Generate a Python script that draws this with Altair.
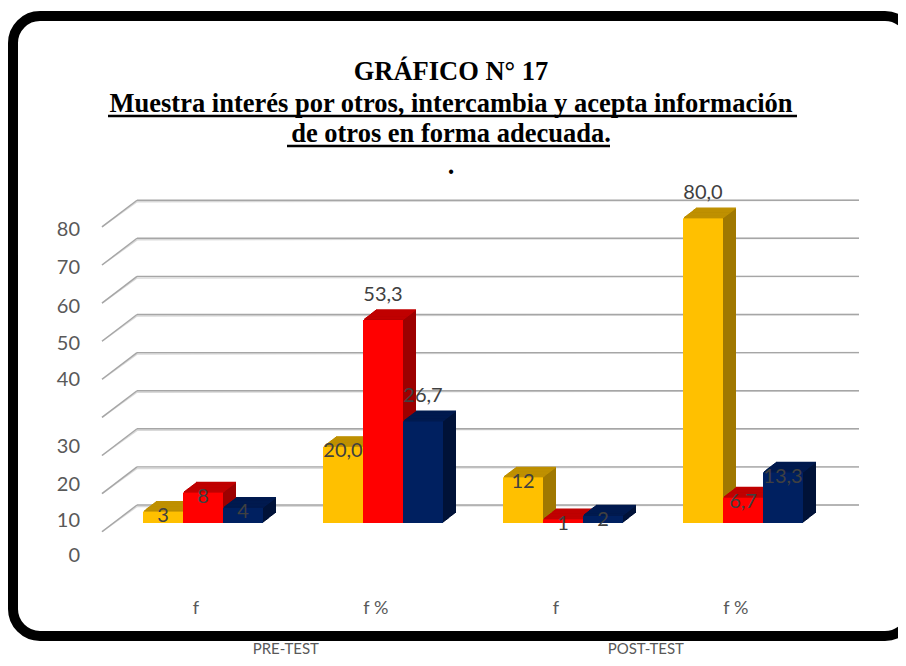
import altair as alt
import pandas as pd

# ---------------- data ----------------
CATEGORIES = ["f", "f %", "f", "f %"]
GROUPS = ["PRE-TEST", "POST-TEST"]
YELLOW = [3, 20.0, 12, 80.0]
RED = [8, 53.3, 1, 6.7]
NAVY = [4, 26.7, 2, 13.3]
GRID_VALUES = [0, 10, 20, 30, 40, 50, 60, 70, 80]
Y_TICK_LABELS = ["0", "10", "20", "30", "40", "50", "60", "70", "80"]

TITLE = "GRÁFICO N° 17"
SUBTITLE_1 = "Muestra interés por otros, intercambia y acepta información"
SUBTITLE_2 = "de otros en forma adecuada."

# ---------------- styling / layout ----------------
FRONT = ["#FFC000", "#FF0000", "#002060"]
TOP = ["#BF9000", "#C00000", "#001A4F"]
SIDE = ["#A07800", "#9C0000", "#001238"]

W_PX, H_PX = 890, 650
CAT_PX = 180.0          # px per category unit
VAL_PX = 3.81           # px per value unit
X0_PX = 195.0           # px of category 0 centre
Y0_PX = 515.0           # px of value 0 (front base)
X_DOMAIN = [-X0_PX / CAT_PX, (W_PX - X0_PX) / CAT_PX]
Y_DOMAIN = [(Y0_PX - H_PX) / VAL_PX, Y0_PX / VAL_PX]

BAR_W = 40 / CAT_PX
DEPTH_X, DEPTH_Y = 13.0, 10.0     # px of the 3D depth
STEPS = 13
WALL = 18 / VAL_PX
GRID_X0 = -66 / CAT_PX
GRID_X1 = 656 / CAT_PX
DIAG_DX = 35 / CAT_PX
DIAG_DY = 26.7 / VAL_PX
# label positions of the (irregular) value axis, in value units
Y_TICK_POS = [-8.66, 0.52, 9.97, 19.95, 37.53, 46.98, 56.69, 66.93, 76.90]
Y_TICK_X = -123 / CAT_PX

xs = alt.Scale(domain=X_DOMAIN, nice=False, zero=False)
ys = alt.Scale(domain=Y_DOMAIN, nice=False, zero=False)

# ---------------- derived tables ----------------
bars, labels = [], []
for i, cat in enumerate(CATEGORIES):
    for j, vals in enumerate([YELLOW, RED, NAVY]):
        v = vals[i]
        x0 = i + (j - 1.5) * BAR_W
        x1 = x0 + BAR_W
        bars.append(dict(x=x0, x2=x1, y=0, y2=v, front=FRONT[j], top=TOP[j], side=SIDE[j]))
        txt = f"{v:.1f}".replace(".", ",") if "%" in cat else str(int(v))
        labels.append(dict(x=(x0 + x1) / 2, y=(v + 6.6) if v > 25 else (v - 1.2), t=txt))

bar_df = pd.DataFrame(bars)
lab_df = pd.DataFrame(labels)

grid_df = pd.DataFrame({"v": GRID_VALUES})
grid_df["y"] = grid_df["v"] + WALL
grid_df["yd"] = grid_df["y"] - DIAG_DY
grid_df["x0"] = GRID_X0
grid_df["x1"] = GRID_X1
grid_df["xd"] = GRID_X0 - DIAG_DX

ytick_df = pd.DataFrame({"t": Y_TICK_LABELS, "y": Y_TICK_POS, "x": Y_TICK_X})
cat_df = pd.DataFrame({"t": CATEGORIES, "x": [i - 0.04 for i in range(len(CATEGORIES))]})
grp_df = pd.DataFrame({"t": GROUPS, "x": [0.5 - 0.04, 2.5 - 0.04]})
one = pd.DataFrame({"k": [0]})

# ---------------- layers ----------------
def grid_layer(color, width, yoff):
    h = alt.Chart(grid_df).mark_rule(color=color, strokeWidth=width, yOffset=yoff).encode(
        x=alt.X("x0:Q", scale=xs, axis=None), x2="x1:Q",
        y=alt.Y("y:Q", scale=ys, axis=None), y2="y:Q")
    d = alt.Chart(grid_df).mark_rule(color=color, strokeWidth=width, yOffset=yoff).encode(
        x=alt.X("x0:Q", scale=xs, axis=None), x2="xd:Q",
        y=alt.Y("y:Q", scale=ys, axis=None), y2="yd:Q")
    return h + d

grid = grid_layer("#D9D9D9", 1.5, 1.5) + grid_layer("#A6A6A6", 1.4, 0)

base = alt.Chart(bar_df)
depth_layers = []
for s in range(STEPS, 0, -1):
    ox = DEPTH_X * s / STEPS
    oy = -DEPTH_Y * s / STEPS
    depth_layers.append(
        base.mark_rect(xOffset=ox, yOffset=oy, x2Offset=ox, y2Offset=oy).encode(
            x=alt.X("x:Q", scale=xs, axis=None), x2="x2:Q",
            y=alt.Y("y:Q", scale=ys, axis=None), y2="y2:Q",
            color=alt.Color("side:N", scale=None)))
    depth_layers.append(
        base.mark_rule(strokeWidth=1.3, xOffset=ox, yOffset=oy, x2Offset=ox, y2Offset=oy).encode(
            x=alt.X("x:Q", scale=xs, axis=None), x2="x2:Q",
            y=alt.Y("y2:Q", scale=ys, axis=None), y2="y2:Q",
            color=alt.Color("top:N", scale=None)))

fronts = base.mark_rect().encode(
    x=alt.X("x:Q", scale=xs, axis=None), x2="x2:Q",
    y=alt.Y("y:Q", scale=ys, axis=None), y2="y2:Q",
    color=alt.Color("front:N", scale=None))

value_labels = alt.Chart(lab_df).mark_text(
    font="Lato", fontSize=20, color="#404040", align="center", baseline="middle").encode(
    x=alt.X("x:Q", scale=xs, axis=None),
    y=alt.Y("y:Q", scale=ys, axis=None),
    text="t:N")

ytick_labels = alt.Chart(ytick_df).mark_text(
    font="Lato", fontSize=20, color="#595959", align="right", baseline="middle").encode(
    x=alt.X("x:Q", scale=xs, axis=None),
    y=alt.Y("y:Q", scale=ys, axis=None),
    text="t:N")

cat_labels = alt.Chart(cat_df).mark_text(
    font="Lato", fontSize=18, color="#595959", align="center", baseline="middle").encode(
    x=alt.X("x:Q", scale=xs, axis=None), y=alt.value(601), text="t:N")

grp_labels = alt.Chart(grp_df).mark_text(
    font="Lato", fontSize=15, color="#595959", align="center", baseline="alphabetic").encode(
    x=alt.X("x:Q", scale=xs, axis=None), y=alt.value(646), text="t:N")

def title_text(t, y):
    return alt.Chart(one).mark_text(
        font="Liberation Serif", fontSize=26.5, fontWeight="bold", color="black",
        align="center", baseline="alphabetic").encode(
        x=alt.value(443), y=alt.value(y), text=alt.value(t))

titles = (title_text(TITLE, 72) + title_text(SUBTITLE_1, 104)
          + title_text(SUBTITLE_2, 134) + title_text(".", 166))

underlines = (
    alt.Chart(one).mark_rule(color="black", strokeWidth=2.5).encode(
        x=alt.value(100), x2=alt.value(789), y=alt.value(108), y2=alt.value(108))
    + alt.Chart(one).mark_rule(color="black", strokeWidth=2.5).encode(
        x=alt.value(279), x2=alt.value(602), y=alt.value(138), y2=alt.value(138))
)

border = alt.Chart(one).mark_rect(
    filled=False, stroke="black", strokeWidth=10, cornerRadius=27).encode(
    x=alt.value(5), x2=alt.value(904), y=alt.value(8), y2=alt.value(628))

chart = alt.layer(
    border, grid, *depth_layers, fronts, value_labels, ytick_labels,
    cat_labels, grp_labels, titles, underlines
).properties(
    width=W_PX, height=H_PX, autosize=alt.AutoSizeParams(type="none"), padding=0
).configure_view(stroke=None)

chart.save("out.html", embed_options={"renderer": "svg", "actions": False})
